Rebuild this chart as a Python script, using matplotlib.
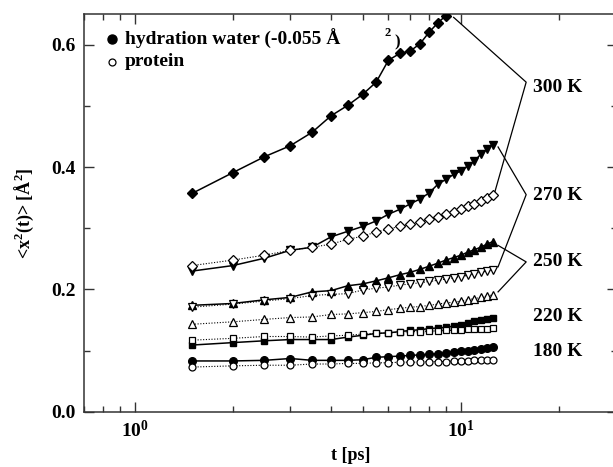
import math
import matplotlib
matplotlib.use("Agg")
import matplotlib.pyplot as plt
from matplotlib.ticker import FixedLocator, LogLocator, FuncFormatter, NullFormatter

plt.rcParams["font.family"] = "Liberation Serif"
plt.rcParams["font.weight"] = "bold"
plt.rcParams["mathtext.fontset"] = "custom"
plt.rcParams["mathtext.rm"] = "Liberation Serif:bold"
plt.rcParams["mathtext.bf"] = "Liberation Serif:bold"
plt.rcParams["mathtext.it"] = "Liberation Serif:bold:italic"

# time grid [ps]
t_full = [1.5, 2.0, 2.5, 3.0, 3.5, 4.0, 4.5, 5.0, 5.5, 6.0, 6.5, 7.0,
          7.5, 8.0, 8.5, 9.0, 9.5, 10.0, 10.5, 11.0, 11.5, 12.0, 12.5]
t_300_water = [1.5, 2.0, 2.5, 3.0, 3.5, 4.0, 4.5, 5.0, 5.5, 6.0, 6.5, 7.0,
               7.5, 8.0, 8.5, 9.0]

# mean square displacement <x^2(t)> [A^2]
water_300 = [0.357, 0.391, 0.417, 0.435, 0.457, 0.484, 0.501, 0.519, 0.539,
             0.575, 0.586, 0.590, 0.602, 0.621, 0.636, 0.648]
protein_300 = [0.239, 0.248, 0.256, 0.264, 0.269, 0.274, 0.282, 0.287, 0.294,
               0.299, 0.303, 0.307, 0.311, 0.315, 0.319, 0.323, 0.327, 0.331,
               0.336, 0.340, 0.345, 0.349, 0.354]
water_270 = [0.230, 0.239, 0.251, 0.264, 0.269, 0.286, 0.295, 0.303, 0.312,
             0.323, 0.331, 0.340, 0.348, 0.358, 0.372, 0.380, 0.388, 0.394,
             0.402, 0.410, 0.421, 0.429, 0.437]
protein_270 = [0.171, 0.176, 0.181, 0.185, 0.190, 0.192, 0.193, 0.199, 0.202,
               0.204, 0.207, 0.209, 0.211, 0.213, 0.215, 0.217, 0.219, 0.221,
               0.223, 0.226, 0.228, 0.230, 0.232]
water_250 = [0.174, 0.177, 0.183, 0.187, 0.196, 0.198, 0.206, 0.209, 0.214,
             0.219, 0.224, 0.228, 0.233, 0.238, 0.243, 0.248, 0.252, 0.256,
             0.261, 0.265, 0.269, 0.274, 0.278]
protein_250 = [0.143, 0.147, 0.151, 0.154, 0.155, 0.159, 0.160, 0.162, 0.164,
               0.167, 0.169, 0.171, 0.172, 0.174, 0.176, 0.178, 0.179, 0.181,
               0.183, 0.185, 0.187, 0.189, 0.191]
water_220 = [0.109, 0.113, 0.116, 0.118, 0.118, 0.118, 0.122, 0.125, 0.128,
             0.129, 0.131, 0.133, 0.134, 0.136, 0.137, 0.138, 0.140, 0.142,
             0.145, 0.148, 0.150, 0.152, 0.154]
protein_220 = [0.117, 0.120, 0.123, 0.123, 0.122, 0.124, 0.125, 0.127, 0.128,
               0.129, 0.130, 0.131, 0.131, 0.132, 0.132, 0.133, 0.133, 0.134,
               0.135, 0.135, 0.136, 0.136, 0.137]
water_180 = [0.083, 0.083, 0.084, 0.087, 0.084, 0.084, 0.084, 0.085, 0.089,
             0.090, 0.091, 0.092, 0.093, 0.094, 0.095, 0.096, 0.098, 0.099,
             0.100, 0.101, 0.103, 0.104, 0.106]
protein_180 = [0.073, 0.075, 0.076, 0.076, 0.078, 0.078, 0.079, 0.079, 0.080,
               0.080, 0.081, 0.081, 0.081, 0.082, 0.082, 0.082, 0.083, 0.083,
               0.083, 0.084, 0.084, 0.084, 0.085]

temp_labels = ["300 K", "270 K", "250 K", "220 K", "180 K"]
y_ticks = [0.0, 0.2, 0.4, 0.6]
x_tick_exponents = [0, 1]

fig = plt.figure(figsize=(6.13, 4.67), dpi=100)
ax_h = (411.7 - 14.3) / 467
ax = fig.add_axes([84 / 613, 1 - 411.7 / 467, (616.6 - 84) / 613, ax_h])

solid = dict(color="black", lw=1.1, ls="-", mfc="black", mec="black", zorder=3)
dotted = dict(color="black", lw=0.8, ls=(0, (1, 1.5)), mfc="white", mec="black",
              mew=0.9, zorder=4)

ax.plot(t_300_water, water_300, marker="D", ms=5.5, **solid)
ax.plot(t_full, protein_300, marker="D", ms=5.0, **dotted)
ax.plot(t_full, water_270, marker="v", ms=6.0, **solid)
ax.plot(t_full, protein_270, marker="v", ms=5.5, **dotted)
ax.plot(t_full, water_250, marker="^", ms=6.0, **solid)
ax.plot(t_full, protein_250, marker="^", ms=5.5, **dotted)
ax.plot(t_full, water_220, marker="s", ms=5.0, **solid)
ax.plot(t_full, protein_220, marker="s", ms=5.0, **dotted)
ax.plot(t_full, water_180, marker="o", ms=5.5, **solid)
ax.plot(t_full, protein_180, marker="o", ms=5.0, **dotted)

ax.set_xscale("log")
ax.set_xlim(0.7, 30)
ax.set_ylim(0.0, 0.65)

# bracket lines joining each temperature label to its pair of curves
brackets = [
    ((9.5, 0.645), (15.85, 0.539), (12.7, 0.359)),
    ((13.0, 0.433), (15.85, 0.355), (13.0, 0.237)),
    ((13.0, 0.272), (15.85, 0.245), (13.0, 0.196)),
]
for a, v, b in brackets:
    ax.plot([a[0], v[0], b[0]], [a[1], v[1], b[1]], color="black", lw=0.9,
            clip_on=False, zorder=2)

label_y = [0.531, 0.354, 0.245, 0.155, 0.098]
for lab, yv in zip(temp_labels, label_y):
    ax.text(16.6, yv, lab, fontsize=14, fontweight="bold", va="center", ha="left")

# legend
ax.plot([0.052], [0.937], marker="o", ms=6.5, color="black", transform=ax.transAxes,
        clip_on=False)
ax.plot([0.052], [0.881], marker="o", ms=5, mfc="white", mec="black", mew=0.9,
        color="black", transform=ax.transAxes, clip_on=False)
ax.text(0.077, 0.937, "hydration water (-0.055 Å", transform=ax.transAxes,
        fontsize=14, fontweight="bold", va="center", ha="left")
ax.text(0.077, 0.881, "protein", transform=ax.transAxes,
        fontsize=14, fontweight="bold", va="center", ha="left")
fig.text(388 / 613, 1 - 33 / 467, "2", fontsize=9, fontweight="bold",
         ha="center", va="center")
fig.text(397 / 613, 1 - 42 / 467, ")", fontsize=12, fontweight="bold",
         ha="center", va="center")

# ticks
ax.yaxis.set_major_locator(FixedLocator(y_ticks))
ax.yaxis.set_minor_locator(FixedLocator([0.1, 0.3, 0.5]))
ax.yaxis.set_major_formatter(FuncFormatter(lambda v, p: f"{v:.1f}"))
ax.xaxis.set_major_locator(FixedLocator([10.0 ** e for e in x_tick_exponents]))
ax.xaxis.set_minor_locator(LogLocator(base=10, subs=[2, 3, 4, 5, 6, 7, 8, 9]))
ax.xaxis.set_minor_formatter(NullFormatter())
ax.xaxis.set_major_formatter(
    FuncFormatter(lambda v, p: r"$\mathbf{10^{%d}}$" % round(math.log10(v))))
ax.tick_params(which="both", direction="in", top=True, right=True, width=1.0,
               labelsize=14, color="#333333")
ax.tick_params(which="major", length=7, pad=6)
ax.tick_params(which="minor", length=4)
for s in ax.spines.values():
    s.set_linewidth(1.1)
    s.set_color("#333333")

ax.set_xlabel("t [ps]", fontsize=13, fontweight="bold", va="center")
ax.xaxis.set_label_coords(0.5, -(455 - 411.7) / 467 / ax_h)
ax.set_ylabel(r"<x$^{\mathbf{2}}$(t)> [Å$^{\mathbf{2}}$]", fontsize=13,
              fontweight="bold", va="center")
ax.yaxis.set_label_coords(-(84 - 24) / 532.6, 0.5)

fig.savefig("out.png", dpi=100)
